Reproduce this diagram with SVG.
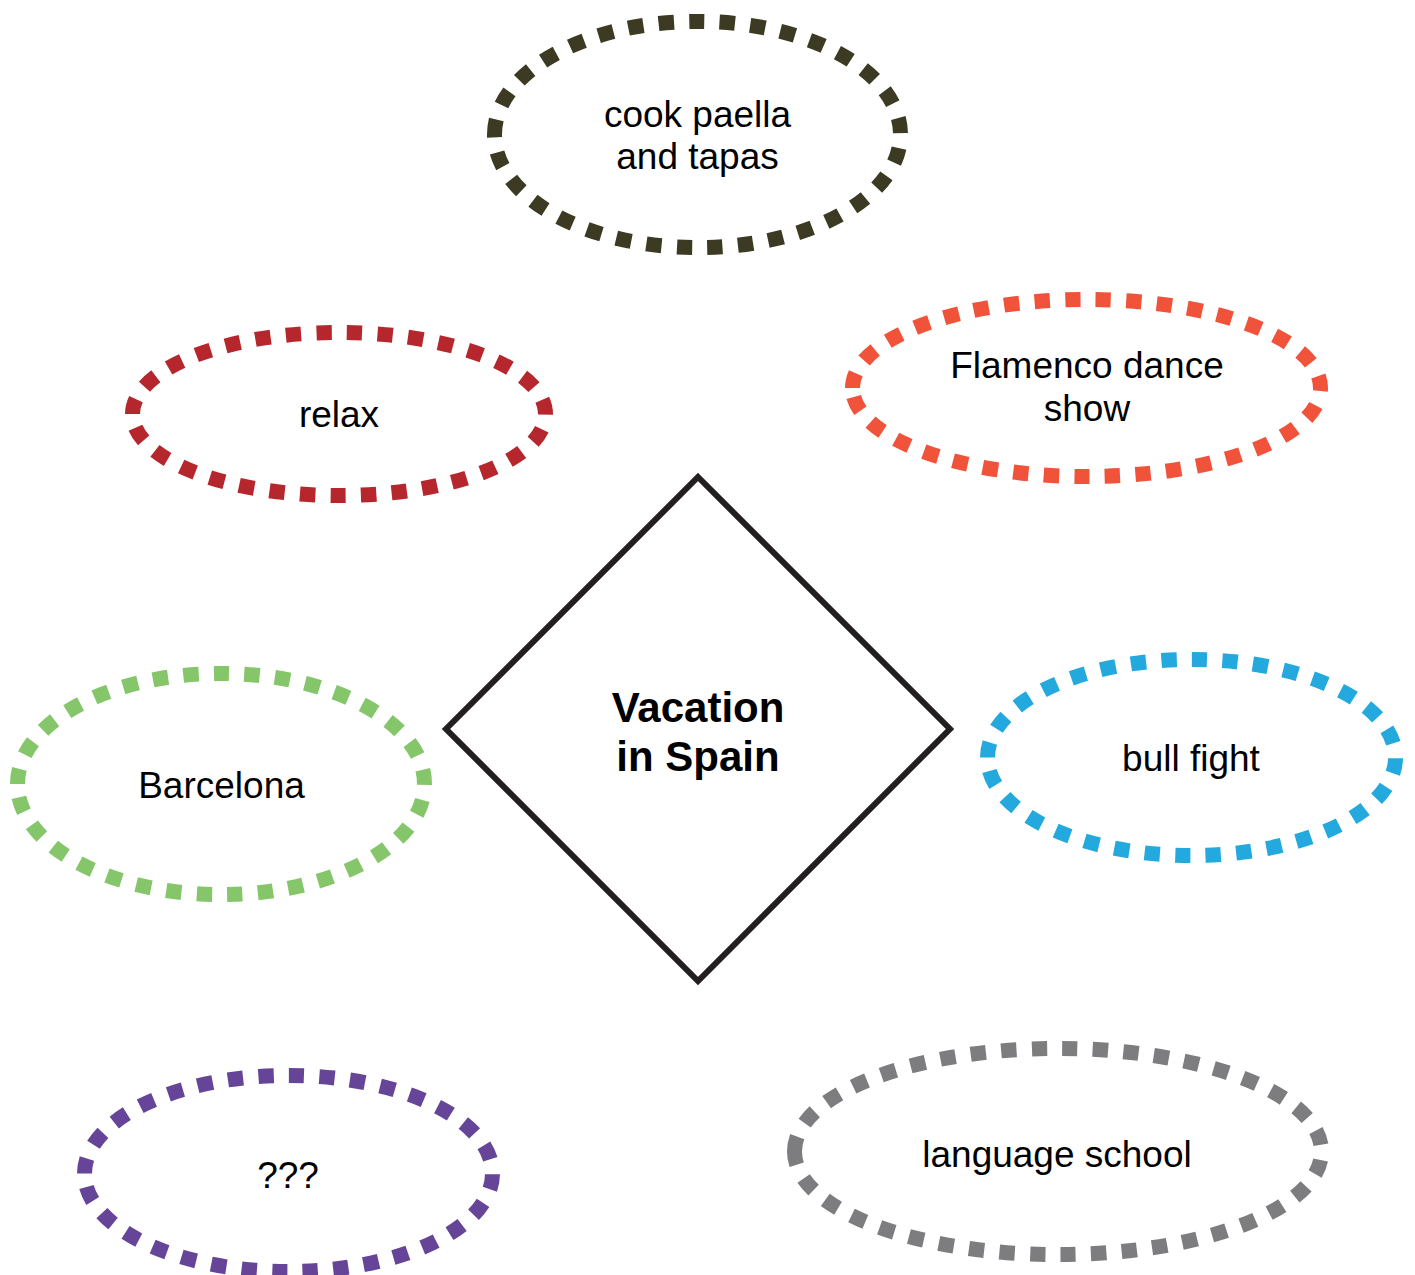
<svg xmlns="http://www.w3.org/2000/svg" width="1415" height="1275" viewBox="0 0 1415 1275">
<style>
.ov{fill:none;stroke-width:15;stroke-dasharray:15.3 15.3}
.t{font-family:"Liberation Sans",Arial,sans-serif;font-size:37px;fill:#000;text-anchor:middle}
.tb{font-family:"Liberation Sans",Arial,sans-serif;font-size:42px;font-weight:bold;fill:#000;text-anchor:middle}
</style>
<rect width="1415" height="1275" fill="#fff"/>
<g id="connectors"></g>
<g id="center">
<path d="M698,477 L950,729 L698,981 L446,729 Z" fill="#fff" stroke="#231f20" stroke-width="6"/>
<text class="tb" x="698" y="722">Vacation</text>
<text class="tb" x="698" y="771">in Spain</text>
</g>
<g id="cook">
<path class="ov" stroke="#3c3a22" d="M494.5,134.5 A203,113 0 1 1 900.5,134.5 A203,113 0 1 1 494.5,134.5 Z"/>
<text class="t" x="697.5" y="127">cook paella</text>
<text class="t" x="697.5" y="169">and tapas</text>
</g>
<g id="relax">
<path class="ov" stroke="#b5272d" d="M132.5,414 A206.5,81.5 0 1 1 545.5,414 A206.5,81.5 0 1 1 132.5,414 Z"/>
<text class="t" x="339" y="427">relax</text>
</g>
<g id="flamenco">
<path class="ov" stroke="#f0533a" d="M852.5,388 A234,88.5 0 1 1 1320.5,388 A234,88.5 0 1 1 852.5,388 Z"/>
<text class="t" x="1087" y="378">Flamenco dance</text>
<text class="t" x="1087" y="421">show</text>
</g>
<g id="barcelona">
<path class="ov" stroke="#85c66b" d="M17.5,784 A203.5,110.5 0 1 1 424.5,784 A203.5,110.5 0 1 1 17.5,784 Z"/>
<text class="t" x="221.5" y="798">Barcelona</text>
</g>
<g id="bullfight">
<path class="ov" stroke="#24a9df" d="M987.5,757.5 A204,98 0 1 1 1395.5,757.5 A204,98 0 1 1 987.5,757.5 Z"/>
<text class="t" x="1191" y="771">bull fight</text>
</g>
<g id="unknown">
<path class="ov" stroke="#664599" d="M84.5,1173.5 A204,98 0 1 1 492.5,1173.5 A204,98 0 1 1 84.5,1173.5 Z"/>
<text class="t" x="288" y="1188">???</text>
</g>
<g id="language">
<path class="ov" stroke="#7d7d80" d="M794.5,1151.5 A263.5,103 0 1 1 1321.5,1151.5 A263.5,103 0 1 1 794.5,1151.5 Z"/>
<text class="t" x="1057" y="1167">language school</text>
</g>
</svg>
